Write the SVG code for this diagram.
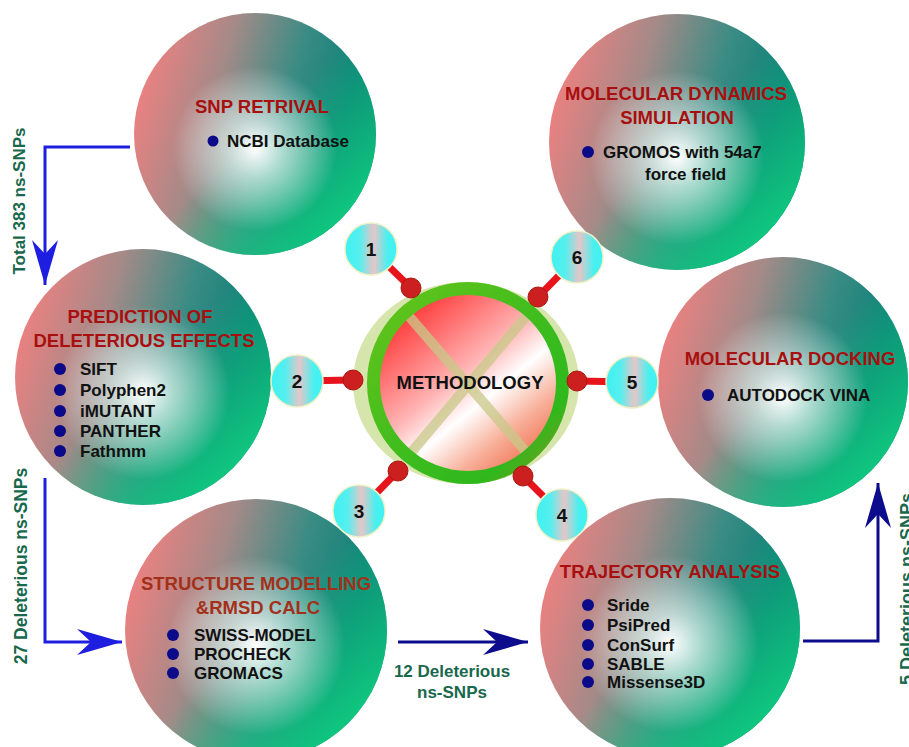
<svg xmlns="http://www.w3.org/2000/svg" width="909" height="747" viewBox="0 0 909 747">
<defs>
<style>
.title{font-family:"Liberation Sans",Arial,sans-serif;font-weight:bold;font-size:18.5px;fill:#a80f0f;text-anchor:middle}
.item{font-family:"Liberation Sans",Arial,sans-serif;font-weight:bold;font-size:17px;fill:#111}
.bullet{fill:#0b0b8a}
.lbl{font-family:"Liberation Sans",Arial,sans-serif;font-weight:bold;font-size:17px;fill:#17684c;text-anchor:middle}
.num{font-family:"Liberation Sans",Arial,sans-serif;font-weight:bold;font-size:19px;fill:#111;text-anchor:middle}
.base{fill:url(#gBase)}
.grn{fill:url(#gGreen)}
.hi{fill:url(#gHi)}
.badge{fill:url(#gBadge);stroke:#eef0c8;stroke-width:1.5}
.dot{fill:#cc1f1f;stroke:#a8180f;stroke-width:1}
.stalk{stroke:#e8141c;stroke-width:7;fill:none}
.arrB{stroke:#1e1ee0;stroke-width:3;fill:none}
.arrN{stroke:#0c0c8c;stroke-width:3;fill:none}
</style>
<linearGradient id="gBase" x1="0" y1="0.35" x2="1" y2="0.65">
<stop offset="0" stop-color="#ee8080"/>
<stop offset="0.3" stop-color="#a48a88"/>
<stop offset="0.58" stop-color="#3a8c84"/>
<stop offset="0.82" stop-color="#0e8078"/>
<stop offset="1" stop-color="#0a7a70"/>
</linearGradient>
<linearGradient id="gGreen" x1="0.2" y1="0.2" x2="0.9" y2="0.9">
<stop offset="0.42" stop-color="#10d080" stop-opacity="0"/>
<stop offset="1" stop-color="#10d080" stop-opacity="1"/>
</linearGradient>
<radialGradient id="gHi" cx="0.5" cy="0.56" r="0.34">
<stop offset="0" stop-color="#ffffff" stop-opacity="1"/>
<stop offset="0.35" stop-color="#f0fbf8" stop-opacity="0.65"/>
<stop offset="1" stop-color="#ffffff" stop-opacity="0"/>
</radialGradient>
<linearGradient id="gHub" x1="0.15" y1="0.1" x2="0.85" y2="0.95">
<stop offset="0" stop-color="#ff3838"/>
<stop offset="0.42" stop-color="#ffb4b4"/>
<stop offset="0.6" stop-color="#ffffff"/>
<stop offset="0.8" stop-color="#f8b09a"/>
<stop offset="1" stop-color="#f07050"/>
</linearGradient>
<linearGradient id="gRing" x1="0" y1="0" x2="1" y2="1">
<stop offset="0" stop-color="#66c41a"/>
<stop offset="0.55" stop-color="#3cbc1e"/>
<stop offset="0.8" stop-color="#2fb81c"/>
<stop offset="1" stop-color="#8a9420"/>
</linearGradient>
<linearGradient id="gBadge" x1="0" y1="0" x2="1" y2="0">
<stop offset="0" stop-color="#3ef2f2"/>
<stop offset="0.28" stop-color="#56eeee"/>
<stop offset="0.55" stop-color="#e6c6c8"/>
<stop offset="0.82" stop-color="#4af0f0"/>
<stop offset="1" stop-color="#3ef2f2"/>
</linearGradient>
<clipPath id="hubClip"><circle cx="468" cy="383" r="90"/></clipPath>
<marker id="ahB" viewBox="0 0 45 26" refX="45" refY="13" markerWidth="45" markerHeight="26" markerUnits="userSpaceOnUse" orient="auto"><path d="M0,0 L45,13 L0,26 L14,13 Z" fill="#1e1ee0"/></marker>
<marker id="ahN" viewBox="0 0 45 26" refX="45" refY="13" markerWidth="45" markerHeight="26" markerUnits="userSpaceOnUse" orient="auto"><path d="M0,0 L45,13 L0,26 L14,13 Z" fill="#0c0c8c"/></marker>
</defs>
<rect width="909" height="747" fill="#ffffff"/>

<g id="snp-retrival">
<circle class="base" cx="255" cy="134" r="121"/>
<circle class="grn" cx="255" cy="134" r="121"/>
<circle class="hi" cx="255" cy="134" r="121"/>
<text class="title" x="262" y="113">SNP RETRIVAL</text>
<circle class="bullet" cx="213" cy="141" r="5.5"/>
<text class="item" x="227" y="147">NCBI Database</text>
</g>

<g id="prediction">
<circle class="base" cx="143" cy="377" r="128"/>
<circle class="grn" cx="143" cy="377" r="128"/>
<circle class="hi" cx="143" cy="377" r="128"/>
<text class="title" x="140" y="323">PREDICTION OF</text>
<text class="title" x="144" y="347">DELETERIOUS EFFECTS</text>
<circle class="bullet" cx="60" cy="369" r="6"/>
<text class="item" x="80" y="375">SIFT</text>
<circle class="bullet" cx="60" cy="390" r="6"/>
<text class="item" x="80" y="396">Polyphen2</text>
<circle class="bullet" cx="60" cy="411" r="6"/>
<text class="item" x="80" y="417">iMUTANT</text>
<circle class="bullet" cx="60" cy="431" r="6"/>
<text class="item" x="80" y="437">PANTHER</text>
<circle class="bullet" cx="60" cy="451" r="6"/>
<text class="item" x="80" y="457">Fathmm</text>
</g>

<g id="structure-modelling">
<circle class="base" cx="256" cy="630" r="131"/>
<circle class="grn" cx="256" cy="630" r="131"/>
<circle class="hi" cx="256" cy="630" r="131"/>
<text class="title" x="256" y="590" style="fill:#a3301a">STRUCTURE MODELLING</text>
<text class="title" x="258" y="614" style="fill:#a3301a">&amp;RMSD CALC</text>
<circle class="bullet" cx="173" cy="635" r="6"/>
<text class="item" x="194" y="641">SWISS-MODEL</text>
<circle class="bullet" cx="173" cy="654" r="6"/>
<text class="item" x="194" y="660">PROCHECK</text>
<circle class="bullet" cx="173" cy="673" r="6"/>
<text class="item" x="194" y="679">GROMACS</text>
</g>

<g id="trajectory-analysis">
<circle class="base" cx="670" cy="628" r="130"/>
<circle class="grn" cx="670" cy="628" r="130"/>
<circle class="hi" cx="670" cy="628" r="130"/>
<text class="title" x="670" y="578">TRAJECTORY ANALYSIS</text>
<circle class="bullet" cx="588" cy="605" r="6"/>
<text class="item" x="607" y="611">Sride</text>
<circle class="bullet" cx="588" cy="625" r="6"/>
<text class="item" x="607" y="631">PsiPred</text>
<circle class="bullet" cx="588" cy="645" r="6"/>
<text class="item" x="607" y="651">ConSurf</text>
<circle class="bullet" cx="588" cy="664" r="6"/>
<text class="item" x="607" y="670">SABLE</text>
<circle class="bullet" cx="588" cy="682" r="6"/>
<text class="item" x="607" y="688">Missense3D</text>
</g>

<g id="molecular-docking">
<circle class="base" cx="783" cy="382" r="125"/>
<circle class="grn" cx="783" cy="382" r="125"/>
<circle class="hi" cx="783" cy="382" r="125"/>
<text class="title" x="790" y="365">MOLECULAR DOCKING</text>
<circle class="bullet" cx="708" cy="395" r="6"/>
<text class="item" x="727" y="401">AUTODOCK VINA</text>
</g>

<g id="md-simulation">
<circle class="base" cx="677" cy="142" r="128"/>
<circle class="grn" cx="677" cy="142" r="128"/>
<circle class="hi" cx="677" cy="142" r="128"/>
<text class="title" x="676" y="100">MOLECULAR DYNAMICS</text>
<text class="title" x="677" y="124">SIMULATION</text>
<circle class="bullet" cx="588" cy="152" r="6"/>
<text class="item" x="603" y="158">GROMOS with 54a7</text>
<text class="item" x="645" y="180">force field</text>
</g>

<g id="connectors">
<line class="stalk" x1="371" y1="249" x2="411" y2="288"/>
<line class="stalk" x1="577" y1="257" x2="538" y2="297"/>
<line class="stalk" x1="297" y1="381" x2="353" y2="380"/>
<line class="stalk" x1="632" y1="382" x2="577" y2="381"/>
<line class="stalk" x1="359" y1="511" x2="398" y2="471"/>
<line class="stalk" x1="562" y1="515" x2="523" y2="476"/>
<path class="arrB" d="M130,147 H45 V285" marker-end="url(#ahB)"/>
<path class="arrB" d="M45,478 V642 H122" marker-end="url(#ahB)"/>
<path class="arrN" d="M398,642 H528" marker-end="url(#ahN)"/>
<path class="arrN" d="M803,641 H878 V483" marker-end="url(#ahN)"/>
<text class="lbl" transform="translate(25,201) rotate(-90)">Total 383 ns-SNPs</text>
<text class="lbl" transform="translate(27,566) rotate(-90)" style="font-size:17.5px">27 Deleterious ns-SNPs</text>
<text class="lbl" x="452" y="677">12 Deleterious</text>
<text class="lbl" x="452" y="698">ns-SNPs</text>
<text class="lbl" transform="translate(913,589) rotate(-90)" style="font-size:18px">5 Deleterious ns-SNPs</text>
</g>

<g id="methodology">
<ellipse cx="466" cy="383" rx="113" ry="101" fill="#d6e5ac"/>
<circle cx="468" cy="383" r="90" fill="url(#gHub)"/>
<g clip-path="url(#hubClip)" stroke="#c8c888" stroke-opacity="0.75" stroke-width="10">
<line x1="395" y1="300" x2="540" y2="468"/>
<line x1="540" y1="300" x2="398" y2="468"/>
</g>
<circle cx="468" cy="383" r="94.5" fill="none" stroke="url(#gRing)" stroke-width="13"/>
<text x="470" y="389" style="font-family:'Liberation Sans',Arial,sans-serif;font-weight:bold;font-size:18.5px;fill:#111;text-anchor:middle">METHODOLOGY</text>
<circle class="dot" cx="411" cy="288" r="10"/>
<circle class="dot" cx="538" cy="297" r="10"/>
<circle class="dot" cx="353" cy="380" r="10"/>
<circle class="dot" cx="577" cy="381" r="10"/>
<circle class="dot" cx="398" cy="471" r="10"/>
<circle class="dot" cx="523" cy="476" r="10"/>
</g>

<g id="badge-1"><circle class="badge" cx="371" cy="249" r="26"/><text class="num" x="371" y="256">1</text></g>
<g id="badge-2"><circle class="badge" cx="297" cy="381" r="26"/><text class="num" x="297" y="388">2</text></g>
<g id="badge-3"><circle class="badge" cx="359" cy="511" r="26"/><text class="num" x="359" y="518">3</text></g>
<g id="badge-4"><circle class="badge" cx="562" cy="515" r="26"/><text class="num" x="562" y="522">4</text></g>
<g id="badge-5"><circle class="badge" cx="632" cy="382" r="26"/><text class="num" x="632" y="389">5</text></g>
<g id="badge-6"><circle class="badge" cx="577" cy="257" r="26"/><text class="num" x="577" y="264">6</text></g>
</svg>
